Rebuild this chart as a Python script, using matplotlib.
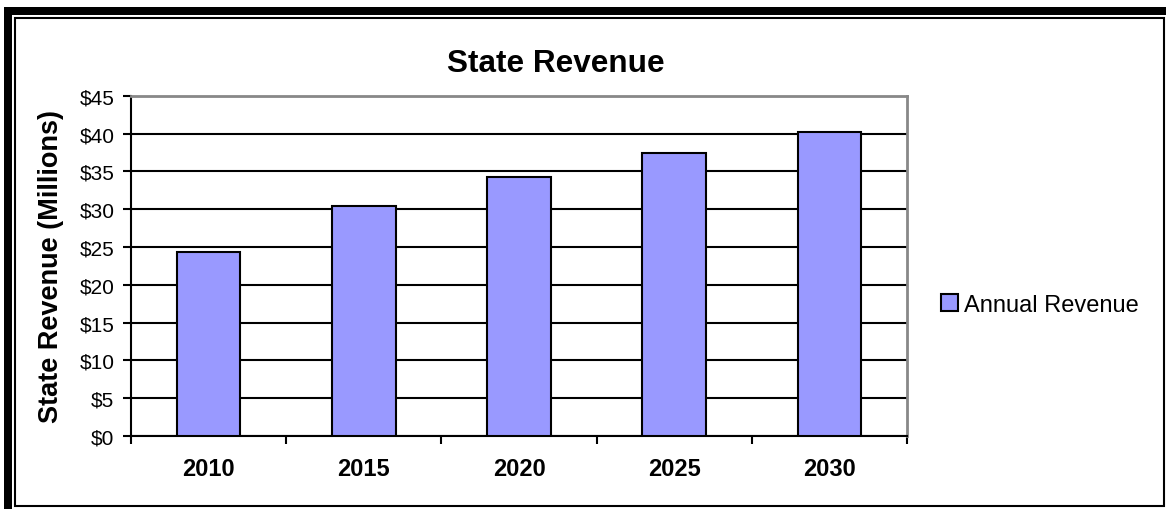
import matplotlib.pyplot as plt
from matplotlib.patches import Rectangle

years = ["2010", "2015", "2020", "2025", "2030"]
revenue = [24.3, 30.4, 34.3, 37.4, 40.2]
y_ticks = [0, 5, 10, 15, 20, 25, 30, 35, 40, 45]
y_tick_labels = ["$" + str(v) for v in y_ticks]

W, H = 1166, 510


def fx(px):
    return px / W


def fy(py):
    # pixel row counted from the top -> figure fraction
    return 1 - py / H


def main():
    """Bar chart of projected annual state revenue"""
    plt.rcParams["font.family"] = ["Liberation Sans", "DejaVu Sans"]
    fig = plt.figure(figsize=(W / 100, H / 100), dpi=100)
    fig.patch.set_facecolor("white")

    ax = fig.add_axes([fx(131), fy(437), fx(907 - 131), (437 - 96.7) / H])
    xs = range(len(years))
    ax.bar(xs, revenue, width=0.41, color="#9999FF", edgecolor="black",
           linewidth=1.5, zorder=3)

    ax.set_xlim(-0.5, len(years) - 0.5)
    ax.set_ylim(0, 45)
    ax.set_yticks(y_ticks)
    ax.set_yticklabels(y_tick_labels, fontsize=15)
    ax.yaxis.grid(True, color="black", linewidth=1.5, zorder=1)
    ax.set_axisbelow(True)

    ax.set_xticks(list(xs))
    ax.set_xticklabels(years, fontsize=17, fontweight="bold")
    ax.set_xticks([i + 0.5 for i in range(-1, len(years))], minor=True)
    ax.tick_params(axis="x", which="major", length=0, pad=15)
    ax.tick_params(axis="x", which="minor", length=6, width=1.5,
                   direction="out")
    ax.tick_params(axis="y", length=6, width=1.5, direction="out", pad=6)

    for side in ["left", "bottom"]:
        ax.spines[side].set_linewidth(1.5)
        ax.spines[side].set_color("black")
    for side in ["top", "right"]:
        ax.spines[side].set_linewidth(2)
        ax.spines[side].set_color("#888888")

    ax.set_ylabel("State Revenue (Millions)", fontsize=19.5,
                  fontweight="bold", labelpad=11)
    fig.text(fx(556), fy(72), "State Revenue", fontsize=22.7,
             fontweight="bold", ha="center", va="baseline")

    fig.legend(["Annual Revenue"], loc="center left",
               bbox_to_anchor=(fx(920), fy(306)), frameon=False,
               fontsize=17, handlelength=0.7, handleheight=0.7,
               handletextpad=0.25)

    # double frame around the whole chart
    fig.add_artist(Rectangle((fx(4), 0), fx(8), fy(8), transform=fig.transFigure,
                             facecolor="black", edgecolor="none"))
    fig.add_artist(Rectangle((fx(4), fy(16)), 1, fy(8) - fy(16),
                             transform=fig.transFigure,
                             facecolor="black", edgecolor="none"))
    fig.add_artist(Rectangle((fx(15), fy(507)), fx(1164 - 15), (507 - 19) / H,
                             transform=fig.transFigure, fill=False,
                             edgecolor="black", linewidth=1.5))

    fig.savefig("out.png", dpi=100)


if __name__ == "__main__":
    main()
